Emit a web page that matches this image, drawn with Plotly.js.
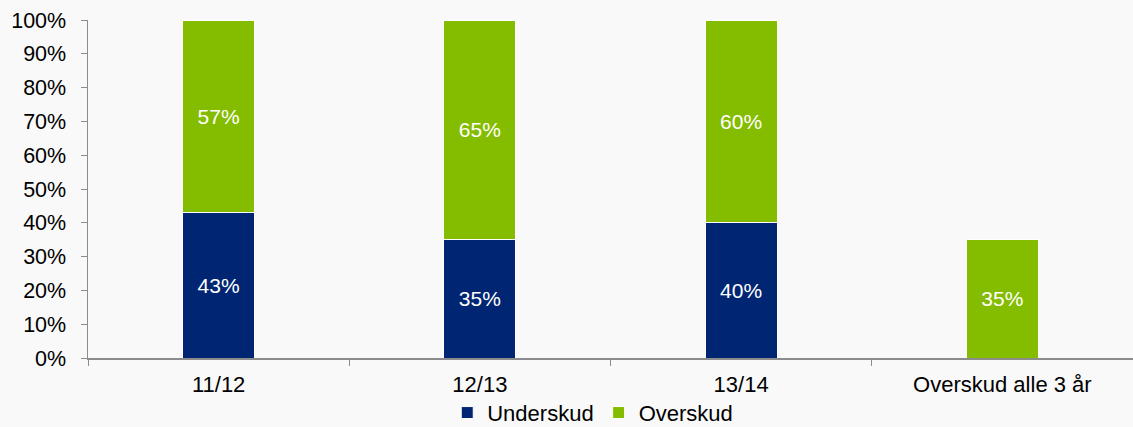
<!DOCTYPE html>
<html>
<head>
<meta charset="utf-8">
<script src="https://cdn.plot.ly/plotly-3.0.1.min.js"></script>
<style>html,body{margin:0;padding:0;background:#f9f9f9;}#chart{width:1133px;height:427px;}</style>
</head>
<body>
<div id="chart"></div>
<script>
const categories = ['11/12', '12/13', '13/14', 'Overskud alle 3 år'];
const underskud = [43, 35, 40, null];
const overskud = [57, 65, 60, 35];
const seriesNames = ['Underskud', 'Overskud'];
const yTicks = [0, 10, 20, 30, 40, 50, 60, 70, 80, 90, 100];

const font = "'Liberation Sans', Arial, sans-serif";
function labels(arr) { return arr.map(v => (v === null ? '' : v + '%')); }
const common = {
  type: 'bar',
  x: categories,
  width: 0.276,
  texttemplate: '%{text}',
  textposition: 'inside',
  insidetextanchor: 'middle',
  textfont: {color: '#ffffff', size: 21, family: font},
  hoverinfo: 'skip'
};
const data = [
  Object.assign({}, common, {y: underskud, text: labels(underskud), name: seriesNames[0],
    marker: {color: '#002673', line: {color: '#ffffff', width: 1}}}),
  Object.assign({}, common, {y: overskud, text: labels(overskud), name: seriesNames[1],
    marker: {color: '#84bc00', line: {color: '#ffffff', width: 1}}})
];
const layout = {
  width: 1133, height: 427,
  barmode: 'stack',
  paper_bgcolor: '#f9f9f9', plot_bgcolor: '#f9f9f9',
  margin: {l: 88, r: 0, t: 20, b: 69, autoexpand: false},
  font: {family: font, size: 21.5, color: '#000000'},
  xaxis: {
    showline: true, linecolor: '#8c8c8c', linewidth: 1.5,
    ticks: 'outside', tickson: 'boundaries', ticklen: 6, tickcolor: '#8c8c8c',
    tickfont: {size: 22, family: font}, ticklabelstandoff: 6,
    showgrid: false, zeroline: false
  },
  yaxis: {
    range: [0, 100], tickvals: yTicks, ticktext: yTicks.map(v => v + '%'),
    showline: true, linecolor: '#8c8c8c', linewidth: 1.5,
    ticks: 'outside', ticklen: 6, tickcolor: '#8c8c8c',
    tickfont: {size: 21.5, family: font}, ticklabelstandoff: 10,
    showgrid: false, zeroline: false
  },
  showlegend: true,
  legend: {orientation: 'h', x: 0.483, xanchor: 'center', y: -0.162, yanchor: 'middle',
    font: {size: 22, family: font}, itemwidth: 30, traceorder: 'normal', bgcolor: 'rgba(0,0,0,0)',
    borderwidth: 0, tracegroupgap: 0}
};
Plotly.newPlot('chart', data, layout, {displayModeBar: false, staticPlot: true});
</script>
</body>
</html>
